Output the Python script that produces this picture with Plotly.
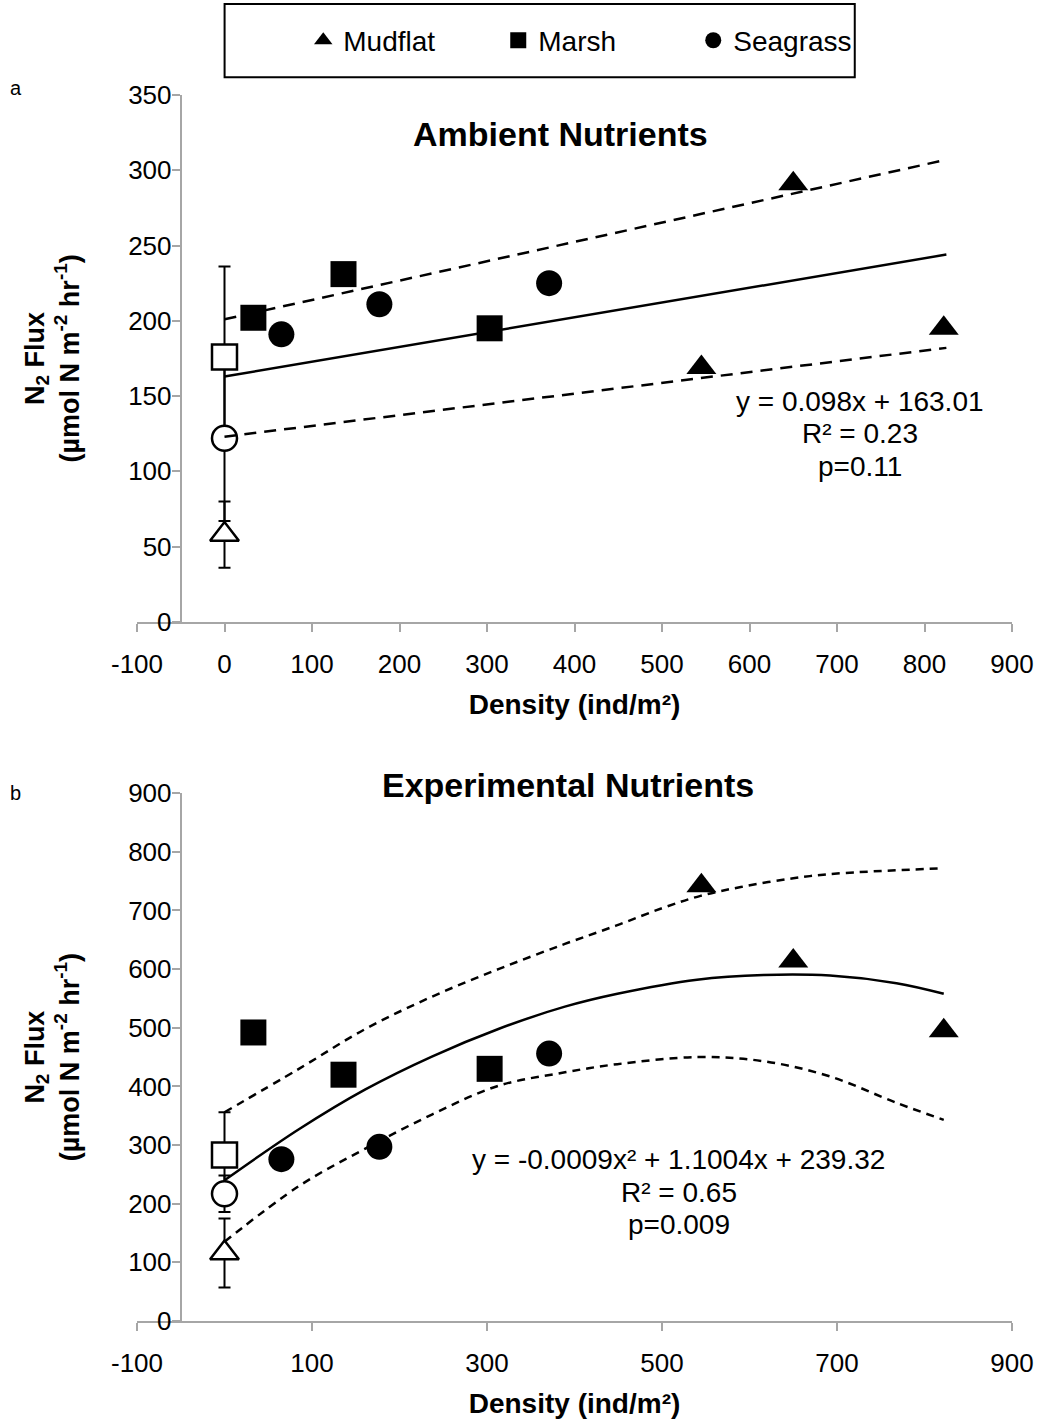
import plotly.graph_objects as go

# ---------------- data ----------------
mudflat_x = [545, 650, 822]
marsh_x = [33, 136, 303]
seagrass_x = [65, 177, 371]

# Ambient nutrients (panel a)
mudflat_amb = [169, 291, 195]
marsh_amb = [202, 231, 195]
seagrass_amb = [191, 211, 225]
ctrl_amb = {"Marsh": (176, 60), "Seagrass": (122, 55), "Mudflat": (58, 22)}

amb_fit_x = [0, 825]
amb_fit_y = [163, 244]
amb_upper_y = [201, 307]
amb_lower_y = [123, 182]

# Experimental nutrients (panel b)
mudflat_exp = [742, 614, 495]
marsh_exp = [492, 420, 430]
seagrass_exp = [276, 297, 456]
ctrl_exp = {"Marsh": (283, 73), "Seagrass": (217, 31), "Mudflat": (116, 59)}

exp_fit_x = [0, 85, 161, 237, 313, 389, 449, 540, 616, 692, 768, 822]
exp_fit_y = [240, 327, 395, 451, 498, 536, 558, 582, 590, 589, 576, 558]
exp_up_x = [0, 85, 161, 237, 313, 389, 449, 502, 544, 590, 650, 700, 822]
exp_up_y = [356, 430, 498, 553, 600, 643, 675, 705, 725, 740, 755, 763, 772]
exp_lo_x = [0, 85, 161, 237, 313, 389, 449, 540, 616, 692, 768, 822]
exp_lo_y = [135, 230, 294, 352, 401, 424, 438, 450, 443, 417, 372, 343]

x_ticks_a = [-100, 0, 100, 200, 300, 400, 500, 600, 700, 800, 900]
x_ticks_b = [-100, 100, 300, 500, 700, 900]

eq_a = ["y = 0.098x + 163.01", "R² = 0.23", "p=0.11"]
eq_a_y = [146.5, 124.8, 103.5]
eq_b = ["y = -0.0009x² + 1.1004x + 239.32", "R² = 0.65", "p=0.009"]
eq_b_y = [275, 219, 164]

symbols = {"Mudflat": "triangle-up", "Marsh": "square", "Seagrass": "circle"}

FONT = "Liberation Sans, Arial, sans-serif"
AXC = "#a6a6a6"
MS = 26

fig = go.Figure()


def add_panel(xa, ya, vals, ctrl, show_legend):
    # error bars of control (open) markers, drawn first
    for name, (v, e) in ctrl.items():
        fig.add_trace(go.Scatter(
            x=[0], y=[v], mode="markers", xaxis=xa, yaxis=ya,
            marker=dict(size=MS, opacity=0),
            error_y=dict(type="data", array=[e], visible=True, color="black",
                         thickness=2, width=6),
            showlegend=False, hoverinfo="skip"))
    for name, (v, e) in ctrl.items():
        fig.add_trace(go.Scatter(
            x=[0], y=[v], mode="markers", xaxis=xa, yaxis=ya,
            marker=dict(symbol=symbols[name], size=MS - 1, color="white",
                        line=dict(color="black", width=2.5)),
            showlegend=False, name=name + " control"))
    for name, xs, ys in vals:
        fig.add_trace(go.Scatter(
            x=xs, y=ys, mode="markers", xaxis=xa, yaxis=ya, name=name,
            legendgroup=name, showlegend=show_legend,
            marker=dict(symbol=symbols[name], size=MS, color="black")))


add_panel("x", "y",
          [("Mudflat", mudflat_x, mudflat_amb),
           ("Marsh", marsh_x, marsh_amb),
           ("Seagrass", seagrass_x, seagrass_amb)],
          ctrl_amb, True)
add_panel("x2", "y2",
          [("Mudflat", mudflat_x, mudflat_exp),
           ("Marsh", marsh_x, marsh_exp),
           ("Seagrass", seagrass_x, seagrass_exp)],
          ctrl_exp, False)

# trend lines
fig.add_trace(go.Scatter(x=amb_fit_x, y=amb_fit_y, mode="lines", xaxis="x", yaxis="y",
                         line=dict(color="black", width=2.5), showlegend=False))
fig.add_trace(go.Scatter(x=amb_fit_x, y=amb_upper_y, mode="lines", xaxis="x", yaxis="y",
                         line=dict(color="black", width=2.5, dash="12px,8px"), showlegend=False))
fig.add_trace(go.Scatter(x=amb_fit_x, y=amb_lower_y, mode="lines", xaxis="x", yaxis="y",
                         line=dict(color="black", width=2.5, dash="12px,8px"), showlegend=False))
fig.add_trace(go.Scatter(x=exp_fit_x, y=exp_fit_y, mode="lines", xaxis="x2", yaxis="y2",
                         line=dict(color="black", width=2.5, shape="spline"), showlegend=False))
fig.add_trace(go.Scatter(x=exp_up_x, y=exp_up_y, mode="lines", xaxis="x2", yaxis="y2",
                         line=dict(color="black", width=2.5, dash="8px,6px", shape="spline"),
                         showlegend=False))
fig.add_trace(go.Scatter(x=exp_lo_x, y=exp_lo_y, mode="lines", xaxis="x2", yaxis="y2",
                         line=dict(color="black", width=2.5, dash="8px,6px", shape="spline"),
                         showlegend=False))

axis_common = dict(showline=True, linecolor=AXC, linewidth=2, ticks="outside",
                   ticklen=8, tickwidth=2, tickcolor=AXC, showgrid=False,
                   zeroline=False, tickfont=dict(size=26, color="black", family=FONT))

xtitle = dict(text="<b>Density (ind/m²)</b>", font=dict(size=28, color="black"),
              standoff=16)
ytitle = dict(text="<b>N<sub>2</sub> Flux</b><br><b>(µmol N m<sup>-2</sup> hr<sup>-1</sup>)</b>",
              font=dict(size=27, color="black"), standoff=40)

H_TOP_Y0 = 0.5703
H_BOT_Y1 = 0.4305

annotations = [
    dict(text="<b>Ambient Nutrients</b>", xref="paper", yref="paper", x=0.4835, y=0.9685,
         showarrow=False, font=dict(size=34), xanchor="center", yanchor="middle"),
    dict(text="<b>Experimental Nutrients</b>", xref="paper", yref="paper", x=0.4926, y=0.4375,
         showarrow=False, font=dict(size=34), xanchor="center", yanchor="middle"),
    dict(text="a", xref="paper", yref="paper", x=-0.148, y=1.0057, showarrow=False,
         font=dict(size=20), xanchor="left", yanchor="middle"),
    dict(text="b", xref="paper", yref="paper", x=-0.148, y=0.4305, showarrow=False,
         font=dict(size=20), xanchor="left", yanchor="middle"),
]
for t, yv in zip(eq_a, eq_a_y):
    annotations.append(dict(text=t, xref="x", yref="y", x=726, y=yv, showarrow=False,
                            font=dict(size=28), xanchor="center", yanchor="middle"))
for t, yv in zip(eq_b, eq_b_y):
    annotations.append(dict(text=t, xref="x2", yref="y2", x=519, y=yv, showarrow=False,
                            font=dict(size=28), xanchor="center", yanchor="middle"))

fig.update_layout(
    width=1046, height=1426,
    margin=dict(l=137, r=30, t=95, b=93),
    paper_bgcolor="white", plot_bgcolor="white",
    font=dict(family=FONT, color="black", size=24),
    xaxis=dict(domain=[0, 1], anchor="y", range=[-100, 900], tickvals=x_ticks_a,
               ticktext=[str(v) for v in x_ticks_a],
               ticklabelstandoff=10, title=xtitle, **axis_common),
    yaxis=dict(domain=[H_TOP_Y0, 1], anchor="free", position=0.05, range=[0, 350],
               dtick=50, ticklabelstandoff=-5, title=ytitle, **axis_common),
    xaxis2=dict(domain=[0, 1], anchor="y2", range=[-100, 900], tickvals=x_ticks_b,
                ticktext=[str(v) for v in x_ticks_b],
                ticklabelstandoff=10, title=xtitle, **axis_common),
    yaxis2=dict(domain=[0, H_BOT_Y1], anchor="free", position=0.05, range=[0, 900],
                dtick=100, ticklabelstandoff=-5, title=ytitle, **axis_common),
    legend=dict(orientation="h", x=0.19, y=1.0444, xanchor="left", yanchor="middle",
                bgcolor="rgba(0,0,0,0)", font=dict(size=28, color="black"),
                entrywidth=150, entrywidthmode="pixels"),
    shapes=[dict(type="rect", xref="paper", yref="paper", x0=0.1001, x1=0.8203,
                 y0=1.01454, y1=1.07431, line=dict(color="black", width=2))],
    annotations=annotations,
)

fig.write_html("out.html")
